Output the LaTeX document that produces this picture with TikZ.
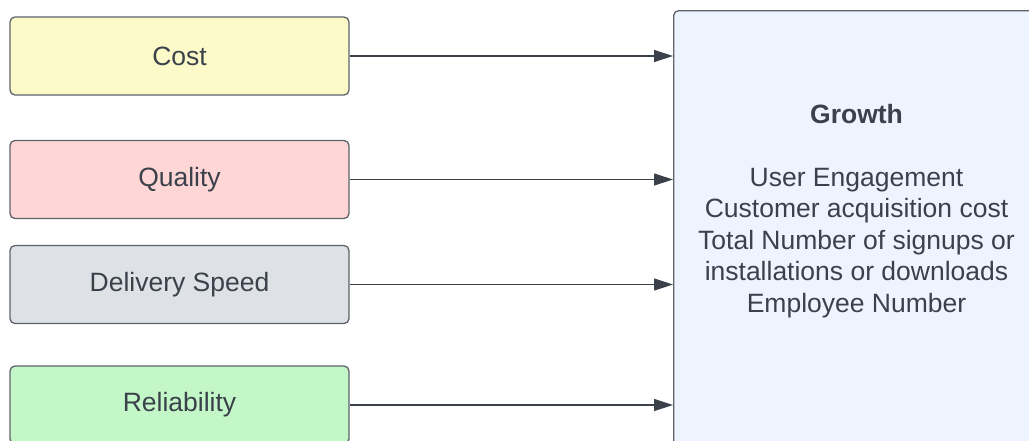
\documentclass[tikz,border=0pt]{standalone}
\usepackage{fontspec}
\setmainfont{Liberation Sans}
\usetikzlibrary{arrows.meta}
\definecolor{txt}{HTML}{3A414A}
\definecolor{edge}{HTML}{5E6269}
\definecolor{costfill}{HTML}{FBFAC8}
\definecolor{qualfill}{HTML}{FFD6D6}
\definecolor{delfill}{HTML}{DEE1E6}
\definecolor{relfill}{HTML}{C3F7C8}
\definecolor{growfill}{HTML}{EDF4FF}
\tikzset{
  metric/.style={draw=edge, line width=1.3pt, rounded corners=5pt, minimum width=339pt, minimum height=78pt, inner sep=0pt, text=txt, font=\fontsize{26.5}{31}\selectfont},
  link/.style={draw=txt, line width=1.2pt, -{Triangle[length=19pt,width=12pt]}},
}
\begin{document}
\begin{tikzpicture}[x=1pt,y=-1pt]
\useasboundingbox (0,0) rectangle (1029,440);
\clip (0,0) rectangle (1029,440);
\node[metric, fill=costfill] (cost) at (179.5,56) {Cost};
\node[metric, fill=qualfill] (qual) at (179.5,179.5) {Quality};
\node[metric, fill=delfill] (del) at (179.5,284.5) {Delivery Speed};
\node[metric, fill=relfill] (rel) at (179.5,405) {Reliability};
\node[draw=edge, line width=1.3pt, rounded corners=5pt, fill=growfill, minimum width=367pt, minimum height=470pt, inner sep=0pt, anchor=north west] (grow) at (673,10) {};
\node[text=txt, align=center, font=\fontsize{26.5}{31.5}\selectfont] (growtext) at (856.5,211) {\textbf{Growth}\\[31.5pt]User Engagement\\Customer acquisition cost\\Total Number of signups or\\installations or downloads\\Employee Number};
\draw[link] (cost.east) -- (grow.west |- cost.east);
\draw[link] (qual.east) -- (grow.west |- qual.east);
\draw[link] (del.east) -- (grow.west |- del.east);
\draw[link] (rel.east) -- (grow.west |- rel.east);
\end{tikzpicture}
\end{document}
